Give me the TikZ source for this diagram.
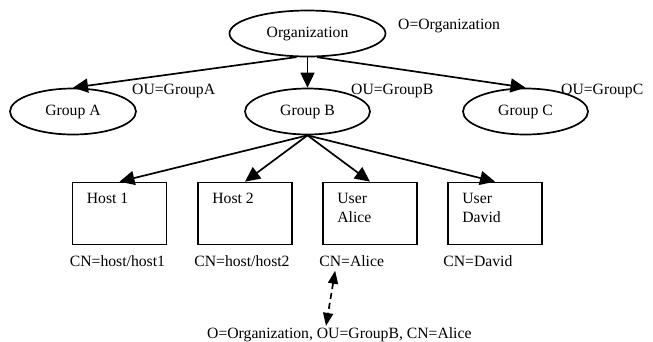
\documentclass[tikz,border=0pt]{standalone}
\usepackage{fontspec}
\setmainfont{Liberation Serif}
\usetikzlibrary{shapes.geometric,arrows.meta}

\tikzset{
  grp/.style={draw, ellipse, line width=1.7pt, minimum width=125pt, minimum height=46pt, inner sep=0pt},
  leaf/.style={draw, rectangle, line width=1.7pt, minimum width=94pt, minimum height=62pt, inner sep=0pt},
  tag/.style={anchor=base west, inner sep=0pt},
  link/.style={line width=1.7pt, -{Triangle[length=15pt,width=14pt]}},
}

\begin{document}
\begin{tikzpicture}[x=1pt,y=-1pt, font=\fontsize{15.7}{19}\selectfont]
  \useasboundingbox (0,0) rectangle (653,341);

  % the tree
  \node[grp, minimum width=156pt] (org) at (307.5,33.5) {Organization};
  \node[grp, minimum width=126pt] (ga) at (73,111.5) {Group A};
  \node[grp] (gb) at (307.5,111.5) {Group B};
  \node[grp] (gc) at (525.5,111.5) {Group C};

  \node[tag] (oorg) at (398,29) {O=Organization};
  \node[tag] (oua) at (132,94) {OU=GroupA};
  \node[tag] (oub) at (351,94) {OU=GroupB};
  \node[tag] (ouc) at (561,94) {OU=GroupC};

  \draw[link] (org.245) -- (ga.north);
  \draw[link] (org.south) -- (gb.north);
  \draw[link] (org.292) -- (gc.north);

  % leaves under Group B
  \node[leaf] (host1) at (119.5,213.5) {};
  \node[leaf] (host2) at (245,213.5) {};
  \node[leaf] (alice) at (370,213.5) {};
  \node[leaf] (david) at (495,213.5) {};

  \node[tag] (thost1) at ([shift={(15,22)}]host1.north west) {Host 1};
  \node[tag] (thost2) at ([shift={(15,22)}]host2.north west) {Host 2};
  \node[tag] (talice) at ([shift={(15,22)}]alice.north west) {User};
  \node[tag] (talice2) at ([shift={(15,41)}]alice.north west) {Alice};
  \node[tag] (tdavid) at ([shift={(15,22)}]david.north west) {User};
  \node[tag] (tdavid2) at ([shift={(15,41)}]david.north west) {David};

  \draw[link] (gb.south) -- (host1.north);
  \draw[link] (gb.south) -- (host2.north);
  \draw[link] (gb.south) -- (alice.north);
  \draw[link] (gb.south) -- (david.north);

  \node[tag] (cnhost1) at ([shift={(-2,21)}]host1.south west) {CN=host/host1};
  \node[tag] (cnhost2) at ([shift={(-3,21)}]host2.south west) {CN=host/host2};
  \node[tag] (cnalice) at ([shift={(-3,21)}]alice.south west) {CN=Alice};
  \node[tag] (cndavid) at ([shift={(-4,21)}]david.south west) {CN=David};

  % full name of Alice
  \node[tag] (dn) at (207,338) {O=Organization, OU=GroupB, CN=Alice};
  \draw[line width=1.7pt, dash pattern=on 6pt off 4pt, {Triangle[length=13pt,width=10pt]}-{Triangle[length=13pt,width=10pt]}]
    ([shift={(16,4)}]cnalice.south west) -- ([shift={(119,-1)}]dn.north west);
\end{tikzpicture}
\end{document}
